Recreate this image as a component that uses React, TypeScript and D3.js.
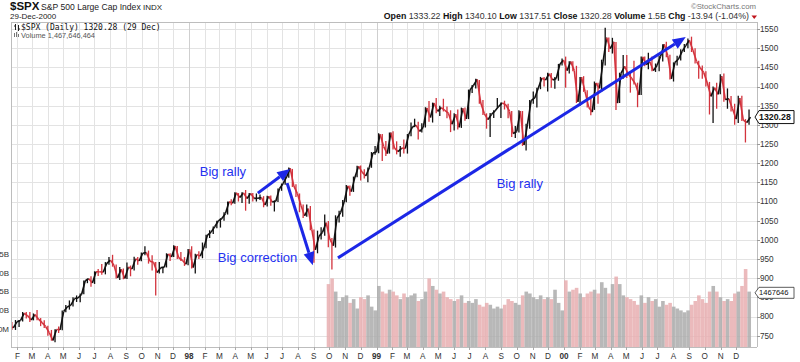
import * as d3 from 'd3'

// weekly bars (Friday closes), first week ending 17-Jan-1997
const firstWeek = '1997-01-17'

const closes = [
  // 1997
  776.2, 770.5, 786.2, 789.6, 808.5, 801.8, 790.8, 805.0, 793.2, 784.1, 773.9, 757.9, 737.7, 766.3, 765.4, 813.0, 824.8,
  829.8, 847.0, 848.3, 858.0, 893.3, 898.7, 887.3, 916.9, 916.7, 915.3, 938.8, 947.1, 933.5, 900.8, 923.5, 899.5, 929.1,
  923.9, 950.5, 945.2, 965.0, 967.0, 944.2, 941.6, 914.6, 927.5, 928.4, 963.1, 955.4, 983.8, 953.4, 946.8, 936.5,
  // 1998
  975.0, 927.7, 961.5, 957.6, 980.3, 1012.5, 1020.1, 1034.2, 1049.3, 1055.7, 1068.6, 1099.2, 1095.4, 1122.7, 1110.7,
  1122.7, 1107.9, 1121.0, 1108.1, 1108.7, 1110.5, 1090.8, 1113.9, 1098.8, 1100.7, 1133.2, 1146.4, 1164.3, 1186.8, 1140.8,
  1120.7, 1089.5, 1062.8, 1081.2, 1027.1, 973.9, 1009.1, 1020.1, 1044.8, 1002.6, 984.6, 1056.4, 1070.7, 1098.7, 1141.0,
  1125.7, 1163.6, 1192.3, 1176.7, 1166.5, 1188.0, 1226.3, 1229.2,
  // 1999
  1275.1, 1243.3, 1225.2, 1279.6, 1239.4, 1230.1, 1239.2, 1238.3, 1275.5, 1294.6, 1299.3, 1282.8, 1293.7, 1344.0, 1319.0,
  1356.9, 1335.2, 1345.0, 1337.8, 1330.3, 1301.8, 1327.8, 1293.6, 1342.8, 1315.3, 1391.2, 1403.3, 1418.8, 1356.9, 1328.7,
  1313.7, 1327.7, 1336.6, 1348.3, 1357.2, 1351.7, 1335.4, 1277.4, 1282.8, 1336.0, 1247.4, 1301.7, 1362.9, 1370.2, 1396.1,
  1422.0, 1416.6, 1433.3, 1417.0, 1421.0, 1458.3, 1469.3,
  // 2000
  1441.5, 1465.2, 1441.4, 1360.2, 1424.4, 1387.1, 1346.1, 1333.4, 1409.2, 1395.1, 1464.5, 1527.5, 1498.6, 1516.4, 1356.6,
  1434.5, 1452.4, 1432.6, 1421.0, 1407.0, 1378.0, 1477.3, 1457.0, 1464.5, 1441.5, 1454.6, 1478.9, 1510.0, 1480.2, 1419.9,
  1462.9, 1471.8, 1491.7, 1506.5, 1520.8, 1494.5, 1465.8, 1448.7, 1436.5, 1409.0, 1374.2, 1396.9, 1379.6, 1426.7, 1366.0,
  1367.7, 1341.8, 1315.2, 1369.9, 1312.2, 1306.0, 1320.28,
]

const highs = [
  777, 786, 791, 791, 812, 812, 812, 808, 817, 796, 790, 776, 765, 767, 774, 816, 830, 842, 850, 855, 860, 894, 899, 905,
  918, 924, 937, 942, 955, 961, 936, 929, 925, 941, 933, 956, 955, 967, 983, 972, 960, 942, 942, 930, 965, 965, 986, 984,
  968, 955,
  976, 983, 964, 970, 993, 1013, 1025, 1035, 1050, 1056, 1072, 1100, 1106, 1124, 1122, 1124, 1130, 1122, 1122, 1121, 1118,
  1114, 1115, 1116, 1103, 1134, 1147, 1167, 1189, 1185, 1145, 1121, 1092, 1092, 1088, 1027, 1024, 1033, 1066, 1049, 1005,
  1064, 1076, 1104, 1143, 1142, 1165, 1193, 1194, 1184, 1189, 1229, 1245,
  1278, 1276, 1258, 1280, 1283, 1257, 1245, 1262, 1276, 1306, 1316, 1308, 1304, 1346, 1362, 1358, 1370, 1350, 1368, 1348,
  1338, 1330, 1340, 1345, 1345, 1392, 1404, 1420, 1417, 1365, 1330, 1331, 1338, 1370, 1358, 1363, 1355, 1336, 1297, 1338,
  1336, 1303, 1365, 1387, 1397, 1425, 1425, 1436, 1435, 1425, 1459, 1473,
  1478, 1466, 1466, 1454, 1425, 1427, 1390, 1370, 1413, 1410, 1470, 1553, 1528, 1527, 1516, 1436, 1482, 1482, 1435, 1467,
  1410, 1478, 1478, 1488, 1478, 1460, 1480, 1510, 1517, 1483, 1463, 1480, 1497, 1511, 1525, 1530, 1500, 1467, 1455, 1440,
  1412, 1400, 1410, 1432, 1434, 1395, 1375, 1355, 1376, 1376, 1315, 1340,
]

const lows = [
  757, 765, 765, 773, 787, 795, 786, 790, 790, 775, 770, 750, 737, 733, 757, 764, 811, 818, 826, 838, 837, 858, 887, 878,
  885, 906, 909, 910, 935, 930, 899, 895, 897, 898, 905, 920, 935, 944, 960, 938, 920, 855, 912, 913, 928, 945, 955, 950,
  945, 932,
  934, 925, 912, 950, 952, 978, 1005, 1015, 1030, 1032, 1050, 1066, 1090, 1094, 1100, 1096, 1076, 1094, 1100, 1100, 1104,
  1085, 1087, 1089, 1074, 1099, 1128, 1144, 1162, 1138, 1112, 1072, 1057, 1060, 1025, 940, 965, 1001, 1011, 981, 923,
  980, 1045, 1060, 1098, 1115, 1125, 1163, 1155, 1160, 1150, 1188, 1222,
  1226, 1206, 1219, 1225, 1236, 1223, 1217, 1225, 1225, 1270, 1294, 1262, 1280, 1293, 1308, 1306, 1330, 1323, 1335, 1317,
  1281, 1285, 1288, 1292, 1311, 1315, 1383, 1395, 1355, 1326, 1290, 1268, 1318, 1345, 1318, 1340, 1317, 1268, 1266, 1280,
  1245, 1233, 1290, 1355, 1345, 1393, 1400, 1387, 1397, 1394, 1415, 1455,
  1397, 1434, 1440, 1357, 1350, 1386, 1345, 1325, 1339, 1355, 1386, 1455, 1490, 1486, 1339, 1357, 1420, 1422, 1384, 1405,
  1346, 1378, 1453, 1445, 1440, 1438, 1440, 1465, 1476, 1418, 1413, 1455, 1468, 1490, 1500, 1490, 1460, 1420, 1420, 1400,
  1327, 1305, 1342, 1380, 1360, 1342, 1335, 1300, 1305, 1310, 1254, 1300,
]

// weekly volume (millions), only from Oct 1998
const volStart = '1998-10-02'
const volumes = [
  1700, 1850, 1500, 1250, 1350, 1400, 1200, 1300, 1050, 1350, 1300, 1400, 1100, 1000,
  1650, 1500, 1450, 1550, 1500, 1400, 1300, 1450, 1350, 1400, 1450, 1250, 1300, 1500, 1850, 1650, 1550, 1450, 1500, 1350,
  1300, 1250, 1300, 1400, 1200, 1250, 1200, 1300, 1150, 1100, 1200, 1150, 1050, 1100, 1050, 1150, 1300, 1250, 1200, 1150,
  1400, 1500, 1450, 1350, 1300, 1400, 1300, 1350, 1300, 1550, 1200, 1000,
  1800, 1500, 1550, 1600, 1450, 1350, 1450, 1500, 1550, 1450, 1750, 1600, 1450, 1700, 1900, 1700, 1400, 1350, 1300, 1250,
  1150, 1400, 1200, 1350, 1250, 1300, 1100, 1250, 1150, 1200, 1100, 1050, 1000, 950, 1000, 1150, 1250, 1400, 1300, 1200,
  1500, 1650, 1500, 1350, 1250, 1300, 1250, 1450, 1500, 1650, 2100, 1500,
]
const lastVolume = 1467646464

const priceTicks = [750, 800, 850, 900, 950, 1000, 1050, 1100, 1150, 1200, 1250, 1300, 1350, 1400, 1450, 1500, 1550]
const volTicks = [500, 1000, 1500, 2000, 2500]
const volTickLabels = ['500M', '1.0B', '1.5B', '2.0B', '2.5B']
const monthLetters = ['J', 'F', 'M', 'A', 'M', 'J', 'J', 'A', 'S', 'O', 'N', 'D']

const arrows = [
  { from: ['1998-05-15', 1122], to: ['1998-07-17', 1185] },
  { from: ['1998-07-11', 1148], to: ['1998-08-30', 934] },
  { from: ['1998-10-18', 953], to: ['2000-08-25', 1529] },
]
const notes = [
  { text: 'Big rally', at: ['1998-01-22', 1166] },
  { text: 'Big correction', at: ['1998-02-26', 941] },
  { text: 'Big rally', at: ['1999-08-23', 1135] },
]

const sans = 'Liberation Sans, Arial, Helvetica, sans-serif'
const UP = '#111'
const DOWN = '#d3333d'
const BLUE = '#1c27e6'

export default function App() {
  const parse = d3.timeParse('%Y-%m-%d')
  const start = parse(firstWeek)
  const dates = closes.map((_, i) => d3.timeDay.offset(start, i * 7))

  const left = 11, right = 757, top = 22, bottom = 347

  const x = d3.scaleTime()
    .domain([new Date(1998, 0, 1), new Date(2000, 0, 1)])
    .range([189, 564])
  const y = d3.scaleLinear().domain([750, 1550]).range([335.7, 29])
  const yv = d3.scaleLinear().domain([0, 2500]).range([348, 254])

  const months = d3.timeMonth.range(new Date(1997, 1, 1), new Date(2001, 0, 1))

  const volOffset = Math.round((parse(volStart) - start) / (7 * 864e5))
  const weekW = x(new Date(1998, 0, 8)) - x(new Date(1998, 0, 1))

  const last = closes[closes.length - 1]
  const lastVol = lastVolume / 1e6
  const tagY = y(last)
  const vTagY = yv(lastVol)

  const arrowShape = (a, i) => {
    const x1 = x(parse(a.from[0])), y1 = y(a.from[1])
    const x2 = x(parse(a.to[0])), y2 = y(a.to[1])
    const ang = Math.atan2(y2 - y1, x2 - x1)
    const L = 13, hw = 5.5
    const bx = x2 - L * Math.cos(ang), by = y2 - L * Math.sin(ang)
    const px = -Math.sin(ang) * hw, py = Math.cos(ang) * hw
    return (
      <g key={i}>
        <line x1={x1} y1={y1} x2={bx} y2={by} stroke={BLUE} strokeWidth={3} />
        <polygon points={`${x2},${y2} ${bx + px},${by + py} ${bx - px},${by - py}`} fill={BLUE} />
      </g>
    )
  }

  return (
    <svg width={800} height={362} style={{ position: 'absolute', left: 0, top: 0, display: 'block', background: '#fff' }}
      fontFamily={sans}>
      <defs>
        <clipPath id="plotClip">
          <rect x={left} y={top} width={right - left} height={bottom - top} />
        </clipPath>
      </defs>

      {/* header */}
      <text x={10} y={10} fontSize={11.5} fontWeight="bold" fill="#111">$SPX</text>
      <text x={41} y={10} fontSize={8.6} fill="#222">S&amp;P 500 Large Cap Index <tspan fontSize={8}>INDX</tspan></text>
      <text x={10} y={18.5} fontSize={8} fill="#222">29-Dec-2000</text>
      <text x={756} y={8.5} fontSize={7.8} fill="#777" textAnchor="end">©StockCharts.com</text>
      <text x={749} y={19} fontSize={8.8} fill="#333" textAnchor="end">
        <tspan fontWeight="bold" fill="#111">Open</tspan> 1333.22{'  '}
        <tspan fontWeight="bold" fill="#111">High</tspan> 1340.10{'  '}
        <tspan fontWeight="bold" fill="#111">Low</tspan> 1317.51{'  '}
        <tspan fontWeight="bold" fill="#111">Close</tspan> 1320.28{'  '}
        <tspan fontWeight="bold" fill="#111">Volume</tspan> 1.5B{'  '}
        <tspan fontWeight="bold" fill="#111">Chg</tspan> -13.94 (-1.04%)
      </text>
      <polygon points="751.5,15.5 757,15.5 754.25,19" fill="#c0141c" />

      {/* grid */}
      <g stroke="#e3e3e3" strokeWidth={1}>
        {priceTicks.map(t => (
          <line key={t} x1={left} x2={right} y1={Math.round(y(t)) + 0.5} y2={Math.round(y(t)) + 0.5} />
        ))}
        {months.map(m => (
          <line key={+m} x1={Math.round(x(m)) + 0.5} x2={Math.round(x(m)) + 0.5} y1={top} y2={bottom}
            stroke={m.getMonth() === 0 ? '#cfcfcf' : '#e3e3e3'} />
        ))}
      </g>

      {/* volume */}
      <g clipPath="url(#plotClip)">
        {volumes.map((v, i) => {
          const k = volOffset + i
          const up = closes[k] >= closes[k - 1]
          const cx = x(dates[k]) - weekW * 0.35
          return (
            <rect key={i} x={cx - weekW / 2} width={weekW} y={yv(v)} height={yv(0) - yv(v)}
              fill={up ? '#acacac' : '#e8aeb0'} fillOpacity={0.85} />
          )
        })}
      </g>

      {/* price */}
      <g clipPath="url(#plotClip)" strokeLinecap="butt">
        {closes.map((c, i) => {
          if (i === 0) return null
          const up = c >= closes[i - 1]
          return (
            <line key={'c' + i} x1={x(dates[i - 1])} y1={y(closes[i - 1])} x2={x(dates[i])} y2={y(c)}
              stroke={up ? UP : DOWN} strokeWidth={1.6} />
          )
        })}
        {closes.map((c, i) => {
          const up = i === 0 || c >= closes[i - 1]
          const cx = x(dates[i]) - weekW * 0.4
          return (
            <line key={'b' + i} x1={cx} x2={cx} y1={y(highs[i])} y2={y(lows[i])}
              stroke={up ? UP : DOWN} strokeWidth={1.3} />
          )
        })}
      </g>

      {/* frame */}
      <g stroke="#bdbdbd" fill="none">
        <line x1={left + 0.5} x2={left + 0.5} y1={top} y2={bottom} />
        <line x1={left} x2={right} y1={top + 0.5} y2={top + 0.5} />
        <line x1={left} x2={right} y1={bottom + 0.5} y2={bottom + 0.5} />
        <line x1={right + 0.5} x2={right + 0.5} y1={top} y2={bottom} />
      </g>

      {/* legend */}
      <g stroke="#222" strokeWidth={1}>
        <line x1={15.5} x2={15.5} y1={24} y2={30} />
        <line x1={18.5} x2={18.5} y1={25} y2={31} />
        <line x1={14} x2={15.5} y1={26} y2={26} />
        <line x1={18.5} x2={20} y1={29} y2={29} />
      </g>
      <text x={21} y={30} fontSize={8} fontFamily="DejaVu Sans Mono, monospace" fill="#111">$SPX (Daily) 1320.28 (29 Dec)</text>
      <g fill="#777">
        <rect x={14} y={33} width={1} height={4} />
        <rect x={16} y={32} width={1} height={5} />
        <rect x={18} y={34} width={1} height={3} />
      </g>
      <text x={21} y={37.5} fontSize={7.4} fill="#555">Volume {d3.format(',')(lastVolume)}</text>

      {/* right axis */}
      {priceTicks.map(t => (
        <g key={t}>
          <line x1={right} x2={right + 3} y1={Math.round(y(t)) + 0.5} y2={Math.round(y(t)) + 0.5} stroke="#999" />
          <text x={760} y={y(t)} dy="0.35em" fontSize={8.2} fill="#333">{t}</text>
        </g>
      ))}

      {/* left volume axis */}
      {volTicks.map((t, i) => (
        <text key={t} x={9} y={yv(t)} dy="0.35em" fontSize={8} fill="#333" textAnchor="end">{volTickLabels[i]}</text>
      ))}

      {/* x axis */}
      {months.map(m => {
        const jan = m.getMonth() === 0
        const mx = x(m)
        return (
          <g key={+m}>
            <line x1={Math.round(mx) + 0.5} x2={Math.round(mx) + 0.5} y1={bottom} y2={bottom + 3} stroke="#aaa" />
            <text x={mx} y={359} fontSize={8.2} textAnchor="middle" fill="#333" fontWeight={jan ? 'bold' : 'normal'}>
              {jan ? d3.timeFormat('%y')(m) : monthLetters[m.getMonth()]}
            </text>
          </g>
        )
      })}

      {/* last value tags */}
      <path d={`M${right - 2},${tagY} L${right + 2},${tagY - 6.5} L794,${tagY - 6.5} L794,${tagY + 6.5} L${right + 2},${tagY + 6.5} Z`}
        fill="#fff" stroke="#111" strokeWidth={1} />
      <text x={759} y={tagY} dy="0.35em" fontSize={8.8} fontWeight="bold" fill="#111">{last.toFixed(2)}</text>
      <path d={`M${right - 2},${vTagY} L${right + 2},${vTagY - 5.5} L794,${vTagY - 5.5} L794,${vTagY + 5.5} L${right + 2},${vTagY + 5.5} Z`}
        fill="#fff" stroke="#333" strokeWidth={0.8} />
      <text x={759} y={vTagY} dy="0.35em" fontSize={7.6} fill="#111">{Math.floor(lastVolume / 1000)}</text>

      {/* annotations */}
      {arrows.map(arrowShape)}
      {notes.map((n, i) => (
        <text key={i} x={x(parse(n.at[0]))} y={y(n.at[1])} fontSize={13} fill="#2431f0">{n.text}</text>
      ))}
    </svg>
  )
}
